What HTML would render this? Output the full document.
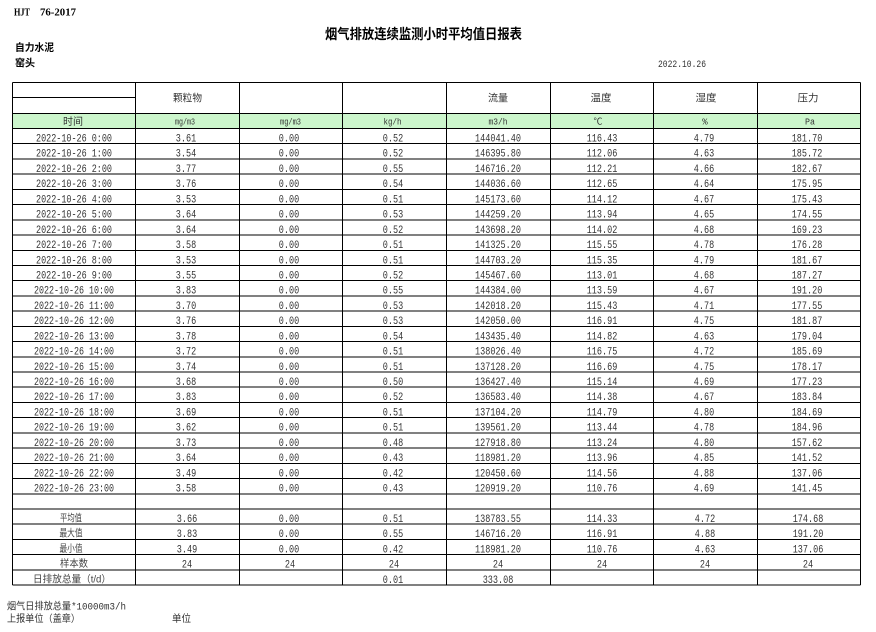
<!DOCTYPE html>
<html>
<head>
<meta charset="utf-8">
<style>
html,body{margin:0;padding:0;background:#fff;}
body{width:876px;height:632px;overflow:hidden;}
svg{display:block;}
.d{font-family:"Liberation Mono","Noto Sans CJK SC",monospace;font-size:11px;fill:#333;text-anchor:middle;}
.u{font-family:"Liberation Mono","Noto Sans CJK SC",monospace;font-size:9px;fill:#333;text-anchor:middle;}
.c{font-family:"Liberation Sans","Noto Sans CJK SC",sans-serif;font-size:10px;fill:#444;text-anchor:middle;}
.h{font-family:"Liberation Sans","Noto Sans CJK SC",sans-serif;font-size:10px;fill:#333;text-anchor:middle;}
.b{font-family:"Liberation Sans","Noto Sans CJK SC",sans-serif;font-weight:bold;fill:#000;}
.f{font-family:"Liberation Mono","Noto Sans CJK SC",monospace;font-size:10px;fill:#333;}
line{stroke:#000;stroke-width:1;}
</style>
</head>
<body>
<svg width="876" height="632" viewBox="0 0 876 632" xmlns="http://www.w3.org/2000/svg">
<rect x="0" y="0" width="876" height="632" fill="#fff"/>

<!-- top texts -->
<text x="14" y="15.5" style="font-family:'Liberation Serif',serif;font-weight:bold;font-size:10px;fill:#000" textLength="16" lengthAdjust="spacingAndGlyphs">HJT</text>
<text x="40" y="15.5" style="font-family:'Liberation Serif',serif;font-weight:bold;font-size:10px;fill:#000" textLength="36" lengthAdjust="spacingAndGlyphs">76-2017</text>
<text class="b" x="325" y="39" font-size="14" textLength="197" lengthAdjust="spacingAndGlyphs">烟气排放连续监测小时平均值日报表</text>
<text class="b" x="15" y="51" font-size="10" textLength="39" lengthAdjust="spacingAndGlyphs">自力水泥</text>
<text class="b" x="15" y="66.5" font-size="10" textLength="20" lengthAdjust="spacingAndGlyphs">窑头</text>
<text class="f" x="658" y="67" textLength="48" lengthAdjust="spacingAndGlyphs">2022.10.26</text>

<!-- green row -->
<rect x="12.5" y="113.5" width="848" height="15" fill="#ccf6cc"/>

<!-- grid -->
<g shape-rendering="crispEdges">
<line x1="12.5" y1="82.5" x2="860.5" y2="82.5"/>
<line x1="12.5" y1="97.5" x2="135.5" y2="97.5"/>
<line x1="12.5" y1="113.5" x2="860.5" y2="113.5"/>
<line x1="12.5" y1="128.5" x2="860.5" y2="128.5"/>
<line x1="12.5" y1="143.72" x2="860.5" y2="143.72"/>
<line x1="12.5" y1="158.94" x2="860.5" y2="158.94"/>
<line x1="12.5" y1="174.16" x2="860.5" y2="174.16"/>
<line x1="12.5" y1="189.38" x2="860.5" y2="189.38"/>
<line x1="12.5" y1="204.6" x2="860.5" y2="204.6"/>
<line x1="12.5" y1="219.82" x2="860.5" y2="219.82"/>
<line x1="12.5" y1="235.04" x2="860.5" y2="235.04"/>
<line x1="12.5" y1="250.26" x2="860.5" y2="250.26"/>
<line x1="12.5" y1="265.48" x2="860.5" y2="265.48"/>
<line x1="12.5" y1="280.7" x2="860.5" y2="280.7"/>
<line x1="12.5" y1="295.92" x2="860.5" y2="295.92"/>
<line x1="12.5" y1="311.14" x2="860.5" y2="311.14"/>
<line x1="12.5" y1="326.36" x2="860.5" y2="326.36"/>
<line x1="12.5" y1="341.58" x2="860.5" y2="341.58"/>
<line x1="12.5" y1="356.8" x2="860.5" y2="356.8"/>
<line x1="12.5" y1="372.02" x2="860.5" y2="372.02"/>
<line x1="12.5" y1="387.24" x2="860.5" y2="387.24"/>
<line x1="12.5" y1="402.46" x2="860.5" y2="402.46"/>
<line x1="12.5" y1="417.68" x2="860.5" y2="417.68"/>
<line x1="12.5" y1="432.9" x2="860.5" y2="432.9"/>
<line x1="12.5" y1="448.12" x2="860.5" y2="448.12"/>
<line x1="12.5" y1="463.34" x2="860.5" y2="463.34"/>
<line x1="12.5" y1="478.56" x2="860.5" y2="478.56"/>
<line x1="12.5" y1="493.78" x2="860.5" y2="493.78"/>
<line x1="12.5" y1="509" x2="860.5" y2="509"/>
<line x1="12.5" y1="524.22" x2="860.5" y2="524.22"/>
<line x1="12.5" y1="539.44" x2="860.5" y2="539.44"/>
<line x1="12.5" y1="554.66" x2="860.5" y2="554.66"/>
<line x1="12.5" y1="569.88" x2="860.5" y2="569.88"/>
<line x1="12.5" y1="585.1" x2="860.5" y2="585.1"/>
<line x1="12.5" y1="82.5" x2="12.5" y2="585.1"/>
<line x1="135.5" y1="82.5" x2="135.5" y2="585.1"/>
<line x1="239.5" y1="82.5" x2="239.5" y2="585.1"/>
<line x1="342.5" y1="82.5" x2="342.5" y2="585.1"/>
<line x1="446.5" y1="82.5" x2="446.5" y2="585.1"/>
<line x1="550.5" y1="82.5" x2="550.5" y2="585.1"/>
<line x1="653.5" y1="82.5" x2="653.5" y2="585.1"/>
<line x1="757.5" y1="82.5" x2="757.5" y2="585.1"/>
<line x1="860.5" y1="82.5" x2="860.5" y2="585.1"/>
</g>

<!-- header row -->
<text class="h" x="187.5" y="101.5" textLength="29" lengthAdjust="spacingAndGlyphs">颗粒物</text>
<text class="h" x="498" y="101.5" textLength="20" lengthAdjust="spacingAndGlyphs">流量</text>
<text class="h" x="601" y="101.5" textLength="21" lengthAdjust="spacingAndGlyphs">温度</text>
<text class="h" x="706" y="101.5" textLength="21" lengthAdjust="spacingAndGlyphs">湿度</text>
<text class="h" x="808" y="101.5" textLength="21" lengthAdjust="spacingAndGlyphs">压力</text>

<!-- units row -->
<text class="h" x="73" y="125" font-size="9.5" textLength="20" lengthAdjust="spacingAndGlyphs">时间</text>
<text class="u" x="185" y="124.5" textLength="20" lengthAdjust="spacingAndGlyphs">mg/m3</text>
<text class="u" x="290.5" y="124.5" textLength="21" lengthAdjust="spacingAndGlyphs">mg/m3</text>
<text class="u" x="392.5" y="124.5" textLength="18" lengthAdjust="spacingAndGlyphs">kg/h</text>
<text class="u" x="498" y="124.5" textLength="19" lengthAdjust="spacingAndGlyphs">m3/h</text>
<text class="u" x="598" y="124.5">℃</text>
<text class="u" x="705" y="124.5">%</text>
<text class="u" x="810" y="124.5" textLength="10" lengthAdjust="spacingAndGlyphs">Pa</text>

<!-- data rows -->
<g transform="translate(0,128.5)"><text class="d" x="74" y="13" textLength="76" lengthAdjust="spacingAndGlyphs">2022-10-26 0:00</text><text class="d" x="186" y="13" textLength="20.4" lengthAdjust="spacingAndGlyphs">3.61</text><text class="d" x="289" y="13" textLength="20.4" lengthAdjust="spacingAndGlyphs">0.00</text><text class="d" x="393" y="13" textLength="20.4" lengthAdjust="spacingAndGlyphs">0.52</text><text class="d" x="498" y="13" textLength="46" lengthAdjust="spacingAndGlyphs">144041.40</text><text class="d" x="602" y="13" textLength="30.6" lengthAdjust="spacingAndGlyphs">116.43</text><text class="d" x="704" y="13" textLength="20.4" lengthAdjust="spacingAndGlyphs">4.79</text><text class="d" x="807" y="13" textLength="30.6" lengthAdjust="spacingAndGlyphs">181.70</text></g>
<g transform="translate(0,143.72)"><text class="d" x="74" y="13" textLength="76" lengthAdjust="spacingAndGlyphs">2022-10-26 1:00</text><text class="d" x="186" y="13" textLength="20.4" lengthAdjust="spacingAndGlyphs">3.54</text><text class="d" x="289" y="13" textLength="20.4" lengthAdjust="spacingAndGlyphs">0.00</text><text class="d" x="393" y="13" textLength="20.4" lengthAdjust="spacingAndGlyphs">0.52</text><text class="d" x="498" y="13" textLength="46" lengthAdjust="spacingAndGlyphs">146395.80</text><text class="d" x="602" y="13" textLength="30.6" lengthAdjust="spacingAndGlyphs">112.06</text><text class="d" x="704" y="13" textLength="20.4" lengthAdjust="spacingAndGlyphs">4.63</text><text class="d" x="807" y="13" textLength="30.6" lengthAdjust="spacingAndGlyphs">185.72</text></g>
<g transform="translate(0,158.94)"><text class="d" x="74" y="13" textLength="76" lengthAdjust="spacingAndGlyphs">2022-10-26 2:00</text><text class="d" x="186" y="13" textLength="20.4" lengthAdjust="spacingAndGlyphs">3.77</text><text class="d" x="289" y="13" textLength="20.4" lengthAdjust="spacingAndGlyphs">0.00</text><text class="d" x="393" y="13" textLength="20.4" lengthAdjust="spacingAndGlyphs">0.55</text><text class="d" x="498" y="13" textLength="46" lengthAdjust="spacingAndGlyphs">146716.20</text><text class="d" x="602" y="13" textLength="30.6" lengthAdjust="spacingAndGlyphs">112.21</text><text class="d" x="704" y="13" textLength="20.4" lengthAdjust="spacingAndGlyphs">4.66</text><text class="d" x="807" y="13" textLength="30.6" lengthAdjust="spacingAndGlyphs">182.67</text></g>
<g transform="translate(0,174.16)"><text class="d" x="74" y="13" textLength="76" lengthAdjust="spacingAndGlyphs">2022-10-26 3:00</text><text class="d" x="186" y="13" textLength="20.4" lengthAdjust="spacingAndGlyphs">3.76</text><text class="d" x="289" y="13" textLength="20.4" lengthAdjust="spacingAndGlyphs">0.00</text><text class="d" x="393" y="13" textLength="20.4" lengthAdjust="spacingAndGlyphs">0.54</text><text class="d" x="498" y="13" textLength="46" lengthAdjust="spacingAndGlyphs">144036.60</text><text class="d" x="602" y="13" textLength="30.6" lengthAdjust="spacingAndGlyphs">112.65</text><text class="d" x="704" y="13" textLength="20.4" lengthAdjust="spacingAndGlyphs">4.64</text><text class="d" x="807" y="13" textLength="30.6" lengthAdjust="spacingAndGlyphs">175.95</text></g>
<g transform="translate(0,189.38)"><text class="d" x="74" y="13" textLength="76" lengthAdjust="spacingAndGlyphs">2022-10-26 4:00</text><text class="d" x="186" y="13" textLength="20.4" lengthAdjust="spacingAndGlyphs">3.53</text><text class="d" x="289" y="13" textLength="20.4" lengthAdjust="spacingAndGlyphs">0.00</text><text class="d" x="393" y="13" textLength="20.4" lengthAdjust="spacingAndGlyphs">0.51</text><text class="d" x="498" y="13" textLength="46" lengthAdjust="spacingAndGlyphs">145173.60</text><text class="d" x="602" y="13" textLength="30.6" lengthAdjust="spacingAndGlyphs">114.12</text><text class="d" x="704" y="13" textLength="20.4" lengthAdjust="spacingAndGlyphs">4.67</text><text class="d" x="807" y="13" textLength="30.6" lengthAdjust="spacingAndGlyphs">175.43</text></g>
<g transform="translate(0,204.6)"><text class="d" x="74" y="13" textLength="76" lengthAdjust="spacingAndGlyphs">2022-10-26 5:00</text><text class="d" x="186" y="13" textLength="20.4" lengthAdjust="spacingAndGlyphs">3.64</text><text class="d" x="289" y="13" textLength="20.4" lengthAdjust="spacingAndGlyphs">0.00</text><text class="d" x="393" y="13" textLength="20.4" lengthAdjust="spacingAndGlyphs">0.53</text><text class="d" x="498" y="13" textLength="46" lengthAdjust="spacingAndGlyphs">144259.20</text><text class="d" x="602" y="13" textLength="30.6" lengthAdjust="spacingAndGlyphs">113.94</text><text class="d" x="704" y="13" textLength="20.4" lengthAdjust="spacingAndGlyphs">4.65</text><text class="d" x="807" y="13" textLength="30.6" lengthAdjust="spacingAndGlyphs">174.55</text></g>
<g transform="translate(0,219.82)"><text class="d" x="74" y="13" textLength="76" lengthAdjust="spacingAndGlyphs">2022-10-26 6:00</text><text class="d" x="186" y="13" textLength="20.4" lengthAdjust="spacingAndGlyphs">3.64</text><text class="d" x="289" y="13" textLength="20.4" lengthAdjust="spacingAndGlyphs">0.00</text><text class="d" x="393" y="13" textLength="20.4" lengthAdjust="spacingAndGlyphs">0.52</text><text class="d" x="498" y="13" textLength="46" lengthAdjust="spacingAndGlyphs">143698.20</text><text class="d" x="602" y="13" textLength="30.6" lengthAdjust="spacingAndGlyphs">114.02</text><text class="d" x="704" y="13" textLength="20.4" lengthAdjust="spacingAndGlyphs">4.68</text><text class="d" x="807" y="13" textLength="30.6" lengthAdjust="spacingAndGlyphs">169.23</text></g>
<g transform="translate(0,235.04)"><text class="d" x="74" y="13" textLength="76" lengthAdjust="spacingAndGlyphs">2022-10-26 7:00</text><text class="d" x="186" y="13" textLength="20.4" lengthAdjust="spacingAndGlyphs">3.58</text><text class="d" x="289" y="13" textLength="20.4" lengthAdjust="spacingAndGlyphs">0.00</text><text class="d" x="393" y="13" textLength="20.4" lengthAdjust="spacingAndGlyphs">0.51</text><text class="d" x="498" y="13" textLength="46" lengthAdjust="spacingAndGlyphs">141325.20</text><text class="d" x="602" y="13" textLength="30.6" lengthAdjust="spacingAndGlyphs">115.55</text><text class="d" x="704" y="13" textLength="20.4" lengthAdjust="spacingAndGlyphs">4.78</text><text class="d" x="807" y="13" textLength="30.6" lengthAdjust="spacingAndGlyphs">176.28</text></g>
<g transform="translate(0,250.26)"><text class="d" x="74" y="13" textLength="76" lengthAdjust="spacingAndGlyphs">2022-10-26 8:00</text><text class="d" x="186" y="13" textLength="20.4" lengthAdjust="spacingAndGlyphs">3.53</text><text class="d" x="289" y="13" textLength="20.4" lengthAdjust="spacingAndGlyphs">0.00</text><text class="d" x="393" y="13" textLength="20.4" lengthAdjust="spacingAndGlyphs">0.51</text><text class="d" x="498" y="13" textLength="46" lengthAdjust="spacingAndGlyphs">144703.20</text><text class="d" x="602" y="13" textLength="30.6" lengthAdjust="spacingAndGlyphs">115.35</text><text class="d" x="704" y="13" textLength="20.4" lengthAdjust="spacingAndGlyphs">4.79</text><text class="d" x="807" y="13" textLength="30.6" lengthAdjust="spacingAndGlyphs">181.67</text></g>
<g transform="translate(0,265.48)"><text class="d" x="74" y="13" textLength="76" lengthAdjust="spacingAndGlyphs">2022-10-26 9:00</text><text class="d" x="186" y="13" textLength="20.4" lengthAdjust="spacingAndGlyphs">3.55</text><text class="d" x="289" y="13" textLength="20.4" lengthAdjust="spacingAndGlyphs">0.00</text><text class="d" x="393" y="13" textLength="20.4" lengthAdjust="spacingAndGlyphs">0.52</text><text class="d" x="498" y="13" textLength="46" lengthAdjust="spacingAndGlyphs">145467.60</text><text class="d" x="602" y="13" textLength="30.6" lengthAdjust="spacingAndGlyphs">113.01</text><text class="d" x="704" y="13" textLength="20.4" lengthAdjust="spacingAndGlyphs">4.68</text><text class="d" x="807" y="13" textLength="30.6" lengthAdjust="spacingAndGlyphs">187.27</text></g>
<g transform="translate(0,280.7)"><text class="d" x="74" y="13" textLength="80" lengthAdjust="spacingAndGlyphs">2022-10-26 10:00</text><text class="d" x="186" y="13" textLength="20.4" lengthAdjust="spacingAndGlyphs">3.83</text><text class="d" x="289" y="13" textLength="20.4" lengthAdjust="spacingAndGlyphs">0.00</text><text class="d" x="393" y="13" textLength="20.4" lengthAdjust="spacingAndGlyphs">0.55</text><text class="d" x="498" y="13" textLength="46" lengthAdjust="spacingAndGlyphs">144384.00</text><text class="d" x="602" y="13" textLength="30.6" lengthAdjust="spacingAndGlyphs">113.59</text><text class="d" x="704" y="13" textLength="20.4" lengthAdjust="spacingAndGlyphs">4.67</text><text class="d" x="807" y="13" textLength="30.6" lengthAdjust="spacingAndGlyphs">191.20</text></g>
<g transform="translate(0,295.92)"><text class="d" x="74" y="13" textLength="80" lengthAdjust="spacingAndGlyphs">2022-10-26 11:00</text><text class="d" x="186" y="13" textLength="20.4" lengthAdjust="spacingAndGlyphs">3.70</text><text class="d" x="289" y="13" textLength="20.4" lengthAdjust="spacingAndGlyphs">0.00</text><text class="d" x="393" y="13" textLength="20.4" lengthAdjust="spacingAndGlyphs">0.53</text><text class="d" x="498" y="13" textLength="46" lengthAdjust="spacingAndGlyphs">142018.20</text><text class="d" x="602" y="13" textLength="30.6" lengthAdjust="spacingAndGlyphs">115.43</text><text class="d" x="704" y="13" textLength="20.4" lengthAdjust="spacingAndGlyphs">4.71</text><text class="d" x="807" y="13" textLength="30.6" lengthAdjust="spacingAndGlyphs">177.55</text></g>
<g transform="translate(0,311.14)"><text class="d" x="74" y="13" textLength="80" lengthAdjust="spacingAndGlyphs">2022-10-26 12:00</text><text class="d" x="186" y="13" textLength="20.4" lengthAdjust="spacingAndGlyphs">3.76</text><text class="d" x="289" y="13" textLength="20.4" lengthAdjust="spacingAndGlyphs">0.00</text><text class="d" x="393" y="13" textLength="20.4" lengthAdjust="spacingAndGlyphs">0.53</text><text class="d" x="498" y="13" textLength="46" lengthAdjust="spacingAndGlyphs">142050.00</text><text class="d" x="602" y="13" textLength="30.6" lengthAdjust="spacingAndGlyphs">116.91</text><text class="d" x="704" y="13" textLength="20.4" lengthAdjust="spacingAndGlyphs">4.75</text><text class="d" x="807" y="13" textLength="30.6" lengthAdjust="spacingAndGlyphs">181.87</text></g>
<g transform="translate(0,326.36)"><text class="d" x="74" y="13" textLength="80" lengthAdjust="spacingAndGlyphs">2022-10-26 13:00</text><text class="d" x="186" y="13" textLength="20.4" lengthAdjust="spacingAndGlyphs">3.78</text><text class="d" x="289" y="13" textLength="20.4" lengthAdjust="spacingAndGlyphs">0.00</text><text class="d" x="393" y="13" textLength="20.4" lengthAdjust="spacingAndGlyphs">0.54</text><text class="d" x="498" y="13" textLength="46" lengthAdjust="spacingAndGlyphs">143435.40</text><text class="d" x="602" y="13" textLength="30.6" lengthAdjust="spacingAndGlyphs">114.82</text><text class="d" x="704" y="13" textLength="20.4" lengthAdjust="spacingAndGlyphs">4.63</text><text class="d" x="807" y="13" textLength="30.6" lengthAdjust="spacingAndGlyphs">179.04</text></g>
<g transform="translate(0,341.58)"><text class="d" x="74" y="13" textLength="80" lengthAdjust="spacingAndGlyphs">2022-10-26 14:00</text><text class="d" x="186" y="13" textLength="20.4" lengthAdjust="spacingAndGlyphs">3.72</text><text class="d" x="289" y="13" textLength="20.4" lengthAdjust="spacingAndGlyphs">0.00</text><text class="d" x="393" y="13" textLength="20.4" lengthAdjust="spacingAndGlyphs">0.51</text><text class="d" x="498" y="13" textLength="46" lengthAdjust="spacingAndGlyphs">138026.40</text><text class="d" x="602" y="13" textLength="30.6" lengthAdjust="spacingAndGlyphs">116.75</text><text class="d" x="704" y="13" textLength="20.4" lengthAdjust="spacingAndGlyphs">4.72</text><text class="d" x="807" y="13" textLength="30.6" lengthAdjust="spacingAndGlyphs">185.69</text></g>
<g transform="translate(0,356.8)"><text class="d" x="74" y="13" textLength="80" lengthAdjust="spacingAndGlyphs">2022-10-26 15:00</text><text class="d" x="186" y="13" textLength="20.4" lengthAdjust="spacingAndGlyphs">3.74</text><text class="d" x="289" y="13" textLength="20.4" lengthAdjust="spacingAndGlyphs">0.00</text><text class="d" x="393" y="13" textLength="20.4" lengthAdjust="spacingAndGlyphs">0.51</text><text class="d" x="498" y="13" textLength="46" lengthAdjust="spacingAndGlyphs">137128.20</text><text class="d" x="602" y="13" textLength="30.6" lengthAdjust="spacingAndGlyphs">116.69</text><text class="d" x="704" y="13" textLength="20.4" lengthAdjust="spacingAndGlyphs">4.75</text><text class="d" x="807" y="13" textLength="30.6" lengthAdjust="spacingAndGlyphs">178.17</text></g>
<g transform="translate(0,372.02)"><text class="d" x="74" y="13" textLength="80" lengthAdjust="spacingAndGlyphs">2022-10-26 16:00</text><text class="d" x="186" y="13" textLength="20.4" lengthAdjust="spacingAndGlyphs">3.68</text><text class="d" x="289" y="13" textLength="20.4" lengthAdjust="spacingAndGlyphs">0.00</text><text class="d" x="393" y="13" textLength="20.4" lengthAdjust="spacingAndGlyphs">0.50</text><text class="d" x="498" y="13" textLength="46" lengthAdjust="spacingAndGlyphs">136427.40</text><text class="d" x="602" y="13" textLength="30.6" lengthAdjust="spacingAndGlyphs">115.14</text><text class="d" x="704" y="13" textLength="20.4" lengthAdjust="spacingAndGlyphs">4.69</text><text class="d" x="807" y="13" textLength="30.6" lengthAdjust="spacingAndGlyphs">177.23</text></g>
<g transform="translate(0,387.24)"><text class="d" x="74" y="13" textLength="80" lengthAdjust="spacingAndGlyphs">2022-10-26 17:00</text><text class="d" x="186" y="13" textLength="20.4" lengthAdjust="spacingAndGlyphs">3.83</text><text class="d" x="289" y="13" textLength="20.4" lengthAdjust="spacingAndGlyphs">0.00</text><text class="d" x="393" y="13" textLength="20.4" lengthAdjust="spacingAndGlyphs">0.52</text><text class="d" x="498" y="13" textLength="46" lengthAdjust="spacingAndGlyphs">136583.40</text><text class="d" x="602" y="13" textLength="30.6" lengthAdjust="spacingAndGlyphs">114.38</text><text class="d" x="704" y="13" textLength="20.4" lengthAdjust="spacingAndGlyphs">4.67</text><text class="d" x="807" y="13" textLength="30.6" lengthAdjust="spacingAndGlyphs">183.84</text></g>
<g transform="translate(0,402.46)"><text class="d" x="74" y="13" textLength="80" lengthAdjust="spacingAndGlyphs">2022-10-26 18:00</text><text class="d" x="186" y="13" textLength="20.4" lengthAdjust="spacingAndGlyphs">3.69</text><text class="d" x="289" y="13" textLength="20.4" lengthAdjust="spacingAndGlyphs">0.00</text><text class="d" x="393" y="13" textLength="20.4" lengthAdjust="spacingAndGlyphs">0.51</text><text class="d" x="498" y="13" textLength="46" lengthAdjust="spacingAndGlyphs">137104.20</text><text class="d" x="602" y="13" textLength="30.6" lengthAdjust="spacingAndGlyphs">114.79</text><text class="d" x="704" y="13" textLength="20.4" lengthAdjust="spacingAndGlyphs">4.80</text><text class="d" x="807" y="13" textLength="30.6" lengthAdjust="spacingAndGlyphs">184.69</text></g>
<g transform="translate(0,417.68)"><text class="d" x="74" y="13" textLength="80" lengthAdjust="spacingAndGlyphs">2022-10-26 19:00</text><text class="d" x="186" y="13" textLength="20.4" lengthAdjust="spacingAndGlyphs">3.62</text><text class="d" x="289" y="13" textLength="20.4" lengthAdjust="spacingAndGlyphs">0.00</text><text class="d" x="393" y="13" textLength="20.4" lengthAdjust="spacingAndGlyphs">0.51</text><text class="d" x="498" y="13" textLength="46" lengthAdjust="spacingAndGlyphs">139561.20</text><text class="d" x="602" y="13" textLength="30.6" lengthAdjust="spacingAndGlyphs">113.44</text><text class="d" x="704" y="13" textLength="20.4" lengthAdjust="spacingAndGlyphs">4.78</text><text class="d" x="807" y="13" textLength="30.6" lengthAdjust="spacingAndGlyphs">184.96</text></g>
<g transform="translate(0,432.9)"><text class="d" x="74" y="13" textLength="80" lengthAdjust="spacingAndGlyphs">2022-10-26 20:00</text><text class="d" x="186" y="13" textLength="20.4" lengthAdjust="spacingAndGlyphs">3.73</text><text class="d" x="289" y="13" textLength="20.4" lengthAdjust="spacingAndGlyphs">0.00</text><text class="d" x="393" y="13" textLength="20.4" lengthAdjust="spacingAndGlyphs">0.48</text><text class="d" x="498" y="13" textLength="46" lengthAdjust="spacingAndGlyphs">127918.80</text><text class="d" x="602" y="13" textLength="30.6" lengthAdjust="spacingAndGlyphs">113.24</text><text class="d" x="704" y="13" textLength="20.4" lengthAdjust="spacingAndGlyphs">4.80</text><text class="d" x="807" y="13" textLength="30.6" lengthAdjust="spacingAndGlyphs">157.62</text></g>
<g transform="translate(0,448.12)"><text class="d" x="74" y="13" textLength="80" lengthAdjust="spacingAndGlyphs">2022-10-26 21:00</text><text class="d" x="186" y="13" textLength="20.4" lengthAdjust="spacingAndGlyphs">3.64</text><text class="d" x="289" y="13" textLength="20.4" lengthAdjust="spacingAndGlyphs">0.00</text><text class="d" x="393" y="13" textLength="20.4" lengthAdjust="spacingAndGlyphs">0.43</text><text class="d" x="498" y="13" textLength="46" lengthAdjust="spacingAndGlyphs">118981.20</text><text class="d" x="602" y="13" textLength="30.6" lengthAdjust="spacingAndGlyphs">113.96</text><text class="d" x="704" y="13" textLength="20.4" lengthAdjust="spacingAndGlyphs">4.85</text><text class="d" x="807" y="13" textLength="30.6" lengthAdjust="spacingAndGlyphs">141.52</text></g>
<g transform="translate(0,463.34)"><text class="d" x="74" y="13" textLength="80" lengthAdjust="spacingAndGlyphs">2022-10-26 22:00</text><text class="d" x="186" y="13" textLength="20.4" lengthAdjust="spacingAndGlyphs">3.49</text><text class="d" x="289" y="13" textLength="20.4" lengthAdjust="spacingAndGlyphs">0.00</text><text class="d" x="393" y="13" textLength="20.4" lengthAdjust="spacingAndGlyphs">0.42</text><text class="d" x="498" y="13" textLength="46" lengthAdjust="spacingAndGlyphs">120450.60</text><text class="d" x="602" y="13" textLength="30.6" lengthAdjust="spacingAndGlyphs">114.56</text><text class="d" x="704" y="13" textLength="20.4" lengthAdjust="spacingAndGlyphs">4.88</text><text class="d" x="807" y="13" textLength="30.6" lengthAdjust="spacingAndGlyphs">137.06</text></g>
<g transform="translate(0,478.56)"><text class="d" x="74" y="13" textLength="80" lengthAdjust="spacingAndGlyphs">2022-10-26 23:00</text><text class="d" x="186" y="13" textLength="20.4" lengthAdjust="spacingAndGlyphs">3.58</text><text class="d" x="289" y="13" textLength="20.4" lengthAdjust="spacingAndGlyphs">0.00</text><text class="d" x="393" y="13" textLength="20.4" lengthAdjust="spacingAndGlyphs">0.43</text><text class="d" x="498" y="13" textLength="46" lengthAdjust="spacingAndGlyphs">120919.20</text><text class="d" x="602" y="13" textLength="30.6" lengthAdjust="spacingAndGlyphs">110.76</text><text class="d" x="704" y="13" textLength="20.4" lengthAdjust="spacingAndGlyphs">4.69</text><text class="d" x="807" y="13" textLength="30.6" lengthAdjust="spacingAndGlyphs">141.45</text></g>

<!-- summary rows -->
<g transform="translate(0,509)"><text class="c" x="71" y="12.5" textLength="22" lengthAdjust="spacingAndGlyphs">平均值</text><text class="d" x="187" y="13" textLength="20.4" lengthAdjust="spacingAndGlyphs">3.66</text><text class="d" x="289" y="13" textLength="20.4" lengthAdjust="spacingAndGlyphs">0.00</text><text class="d" x="393" y="13" textLength="20.4" lengthAdjust="spacingAndGlyphs">0.51</text><text class="d" x="498" y="13" textLength="46" lengthAdjust="spacingAndGlyphs">138783.55</text><text class="d" x="602" y="13" textLength="30.6" lengthAdjust="spacingAndGlyphs">114.33</text><text class="d" x="705" y="13" textLength="20.4" lengthAdjust="spacingAndGlyphs">4.72</text><text class="d" x="808" y="13" textLength="30.6" lengthAdjust="spacingAndGlyphs">174.68</text></g>
<g transform="translate(0,524.22)"><text class="c" x="71" y="12.5" textLength="23" lengthAdjust="spacingAndGlyphs">最大值</text><text class="d" x="187" y="13" textLength="20.4" lengthAdjust="spacingAndGlyphs">3.83</text><text class="d" x="289" y="13" textLength="20.4" lengthAdjust="spacingAndGlyphs">0.00</text><text class="d" x="393" y="13" textLength="20.4" lengthAdjust="spacingAndGlyphs">0.55</text><text class="d" x="498" y="13" textLength="46" lengthAdjust="spacingAndGlyphs">146716.20</text><text class="d" x="602" y="13" textLength="30.6" lengthAdjust="spacingAndGlyphs">116.91</text><text class="d" x="705" y="13" textLength="20.4" lengthAdjust="spacingAndGlyphs">4.88</text><text class="d" x="808" y="13" textLength="30.6" lengthAdjust="spacingAndGlyphs">191.20</text></g>
<g transform="translate(0,539.44)"><text class="c" x="71" y="12.5" textLength="23" lengthAdjust="spacingAndGlyphs">最小值</text><text class="d" x="187" y="13" textLength="20.4" lengthAdjust="spacingAndGlyphs">3.49</text><text class="d" x="289" y="13" textLength="20.4" lengthAdjust="spacingAndGlyphs">0.00</text><text class="d" x="393" y="13" textLength="20.4" lengthAdjust="spacingAndGlyphs">0.42</text><text class="d" x="498" y="13" textLength="46" lengthAdjust="spacingAndGlyphs">118981.20</text><text class="d" x="602" y="13" textLength="30.6" lengthAdjust="spacingAndGlyphs">110.76</text><text class="d" x="705" y="13" textLength="20.4" lengthAdjust="spacingAndGlyphs">4.63</text><text class="d" x="808" y="13" textLength="30.6" lengthAdjust="spacingAndGlyphs">137.06</text></g>
<g transform="translate(0,554.66)"><text class="c" x="74" y="12.5" textLength="28" lengthAdjust="spacingAndGlyphs">样本数</text><text class="d" x="187" y="13" textLength="10.2" lengthAdjust="spacingAndGlyphs">24</text><text class="d" x="290" y="13" textLength="10.2" lengthAdjust="spacingAndGlyphs">24</text><text class="d" x="394" y="13" textLength="10.2" lengthAdjust="spacingAndGlyphs">24</text><text class="d" x="498" y="13" textLength="10.2" lengthAdjust="spacingAndGlyphs">24</text><text class="d" x="602" y="13" textLength="10.2" lengthAdjust="spacingAndGlyphs">24</text><text class="d" x="705" y="13" textLength="10.2" lengthAdjust="spacingAndGlyphs">24</text><text class="d" x="808" y="13" textLength="10.2" lengthAdjust="spacingAndGlyphs">24</text></g>
<g transform="translate(0,569.88)"><text class="c" x="72" y="12.5" textLength="78" lengthAdjust="spacingAndGlyphs">日排放总量（t/d）</text><text class="d" x="393" y="13" textLength="20.4" lengthAdjust="spacingAndGlyphs">0.01</text><text class="d" x="498" y="13" textLength="30.6" lengthAdjust="spacingAndGlyphs">333.08</text></g>

<!-- footer -->
<text class="f" x="7" y="609.5" textLength="119" lengthAdjust="spacingAndGlyphs">烟气日排放总量*10000m3/h</text>
<text class="f" x="7" y="622" textLength="73" lengthAdjust="spacingAndGlyphs">上报单位（盖章）</text>
<text class="f" x="172" y="622" textLength="19" lengthAdjust="spacingAndGlyphs">单位</text>
</svg>
</body>
</html>
